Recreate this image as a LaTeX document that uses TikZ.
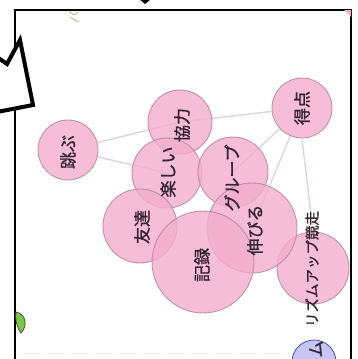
\documentclass[tikz,border=0pt]{standalone}
\usepackage{fontspec}
\newfontfamily\jp{Noto Sans CJK JP}[FakeBold=1.2]
\definecolor{pinkfill}{HTML}{F4ADCE}
\definecolor{pinkline}{HTML}{B088A2}
\definecolor{edgecol}{HTML}{E2D2DA}
\definecolor{txt}{HTML}{33242F}
\definecolor{bluefill}{HTML}{C6C6F4}
\definecolor{leaf}{HTML}{7CC83F}
\begin{document}
\begin{tikzpicture}[x=1pt,y=-1pt,
  bubble/.style={circle,inner sep=0pt,fill=pinkfill,fill opacity=0.8,draw=pinkline,draw opacity=0.85,line width=0.9pt},
  edge/.style={draw=edgecol,line width=1.4pt},
  frameline/.style={line width=2.4pt,black}]
\path[use as bounding box] (0,0) rectangle (358,359);
\fill[white] (0,0) rectangle (358,359);
% frame
\coordinate (fbl) at (15,359);
\coordinate (ftl) at (15,10);
\coordinate (ftr) at (351,10);
\coordinate (fbr) at (351,359);
\draw[frameline] (fbl) -- (ftl) -- (ftr) -- (fbr);
% faint bottom line
\coordinate (bl1) at (18,353);
\coordinate (bl2) at (290,353);
\draw[gray!25,line width=1pt,dotted] (bl1) -- (bl2);
% big arrow outline
\coordinate (a1) at (-3,57);
\coordinate (a2) at (7,64);
\coordinate (a3) at (20,40);
\coordinate (a4) at (33,105);
\coordinate (a5) at (-3,112);
\filldraw[fill=white,draw=black,line width=4pt,line join=miter] (a1) -- (a2) -- (a3) -- (a4) -- (a5);
% small decorations
\fill[black] (139,-1) -- (145,4) -- (151,-1) -- cycle;
\draw[leaf!70!black,opacity=0.5,line width=1pt] (68,10) .. controls (74,16) .. (78,12);
\draw[leaf!70!black,opacity=0.5,line width=1pt] (70,17) -- (78,22);
\fill[pinkfill] (344,10) -- (351,10) -- (351,17) -- cycle;
\filldraw[fill=leaf,draw=black!70,line width=0.8pt] (16,312) .. controls (26,314) and (28,326) .. (21,333) .. controls (17,328) and (15,320) .. (16,312);
% nodes
\node[bubble,minimum size=60pt] (tobu) at (68,150) {};
\node[bubble,minimum size=60pt] (tokuten) at (302,108) {};
\node[bubble,minimum size=72pt] (rizumu) at (313,268) {};
\node[circle,inner sep=0pt,minimum size=44pt,fill=bluefill,draw=blue!40!gray,line width=0.8pt] (blue) at (314,362) {};
% edges
\draw[edge] (tobu) -- (180,122);
\draw[edge] (tobu) -- (167,173);
\draw[edge] (tokuten) -- (180,122);
\draw[edge] (tokuten) -- (233,172);
\draw[edge] (tokuten) -- (252,228);
\draw[edge] (tokuten.south) -- (rizumu.north);
% overlapping bubbles
\node[bubble,minimum size=64pt] (kyoryoku) at (180,122) {};
\node[bubble,minimum size=70pt] (tanoshii) at (167,173) {};
\node[bubble,minimum size=70pt] (group) at (233,172) {};
\node[bubble,minimum size=74pt] (tomodachi) at (140,226) {};
\node[bubble,minimum size=90pt] (nobiru) at (252,228) {};
\node[bubble,minimum size=102pt] (kiroku) at (203,262) {};
% labels
\tikzset{lab/.style={rotate=90,text=txt,font=\jp\fontsize{17}{17}\selectfont,inner sep=0pt}}
\node[lab] (t1) at (68,152) {跳ぶ};
\node[lab] (t2) at (tokuten) {得点};
\node[lab] (t3) at (182,125) {協力};
\node[lab] (t4) at (168,172) {楽しい};
\node[lab] (t5) at (232,178) {グループ};
\node[lab] (t6) at (142,227) {友達};
\node[lab] (t7) at (202,265) {記録};
\node[lab] (t8) at (255,230) {伸びる};
\node[lab,font=\jp\fontsize{14.5}{14.5}\selectfont] (t9) at (312,269) {リズムアップ競走};
\node[lab] (t10) at (316,349) {ム};
\end{tikzpicture}
\end{document}
